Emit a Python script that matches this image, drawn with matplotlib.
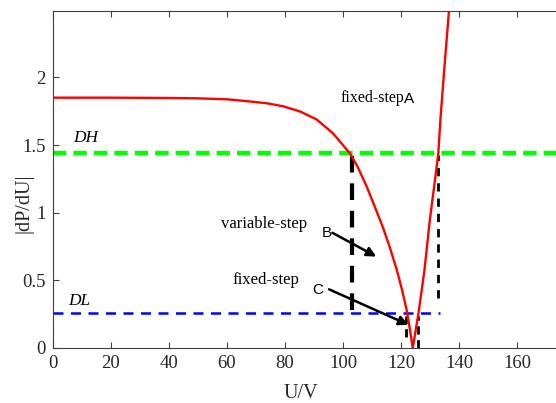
import numpy as np
import matplotlib.pyplot as plt

# |dP/dU| curve
u_curve = [0, 20, 40, 50, 60, 68.0, 74, 79.4, 85.2, 90.9, 96.6, 102.4, 105, 108.1,
           111, 113.8, 116, 118.5, 120.3, 121.9, 123, 124, 126, 128, 129.9, 132,
           132.8, 133.6, 135, 136.5, 137]
d_curve = [1.85, 1.85, 1.848, 1.845, 1.838, 1.822, 1.808, 1.786, 1.748, 1.689, 1.585,
           1.437, 1.34, 1.195, 1.04, 0.887, 0.75, 0.578, 0.43, 0.281, 0.14, 0.0,
           0.26, 0.57, 0.948, 1.30, 1.44, 1.71, 2.1, 2.5, 2.66]

DH = 1.44
DL = 0.26
u_dh = [0, 175]
u_dl = [0, 133.4]

# vertical guide lines
u_left = 103
v_left = [0.28, 1.43]
u_right = 132.8
v_right = [0.37, 1.43]
u_small = [121.7, 125.9]
v_small = [[0.08, 0.24], [0.0, 0.24]]

plt.rcParams["font.family"] = ["Liberation Serif", "DejaVu Serif"]
fig = plt.figure(figsize=(5.56, 4.03), dpi=100)
ax = fig.add_axes([0.0948, 0.1365, 0.905, 0.836])

gray = "#404040"
ax.plot(u_dh, [DH, DH], color="#00ff00", lw=3.2, dashes=(3, 1.6))
ax.plot(u_dl, [DL, DL], color="#0000ff", lw=1.8, dashes=(4, 3))
ax.plot([u_left, u_left], v_left, color="black", lw=3, dashes=(4, 2.6))
ax.plot([u_right, u_right], v_right, color="black", lw=2, dashes=(3, 2.5))
for u, v in zip(u_small, v_small):
    ax.plot([u, u], v, color="black", lw=2, dashes=(3, 2))
ax.plot(u_curve, d_curve, color="red", lw=1.7)

ax.text(7, 1.52, "DH", style="italic", fontsize=12.5)
ax.text(5.3, 0.32, "DL", style="italic", fontsize=12.5)
ax.text(99, 1.82, "fixed-step", fontsize=11.5)
ax.text(121, 1.81, "A", fontsize=11, family="Liberation Sans")
ax.text(58, 0.89, "variable-step", fontsize=12)
ax.text(62, 0.47, "fixed-step", fontsize=12)
ax.text(92.5, 0.82, "B", fontsize=11, family="Liberation Sans")
ax.text(89.5, 0.40, "C", fontsize=11, family="Liberation Sans")

ax.annotate("", xy=(112.3, 0.666), xytext=(95.5, 0.861),
            arrowprops=dict(arrowstyle="-|>", color="black", lw=1.8, mutation_scale=14))
ax.annotate("", xy=(123.4, 0.163), xytext=(94.3, 0.442),
            arrowprops=dict(arrowstyle="-|>", color="black", lw=1.8, mutation_scale=14))

ax.set_xlim(0, 173.3)
ax.set_ylim(0, 2.49)
ax.set_xticks(np.arange(0, 161, 20))
ax.set_yticks([0, 0.5, 1, 1.5, 2])
ax.set_yticklabels(["0", "0.5", "1", "1.5", "2"])
ax.tick_params(direction="in", colors=gray, labelsize=13.5, length=4, top=True,
               labelcolor="#262626", pad=5)
ax.spines["right"].set_visible(False)
for s in ["left", "bottom", "top"]:
    ax.spines[s].set_color(gray)
ax.set_xlabel("U/V", fontsize=14.5, color="#262626")
ax.set_ylabel("|dP/dU|", fontsize=14.5, color="#262626")
ax.xaxis.set_label_coords(0.494, -0.107)
ax.yaxis.set_label_coords(-0.039, 0.43)

fig.savefig("out.png", dpi=100)
